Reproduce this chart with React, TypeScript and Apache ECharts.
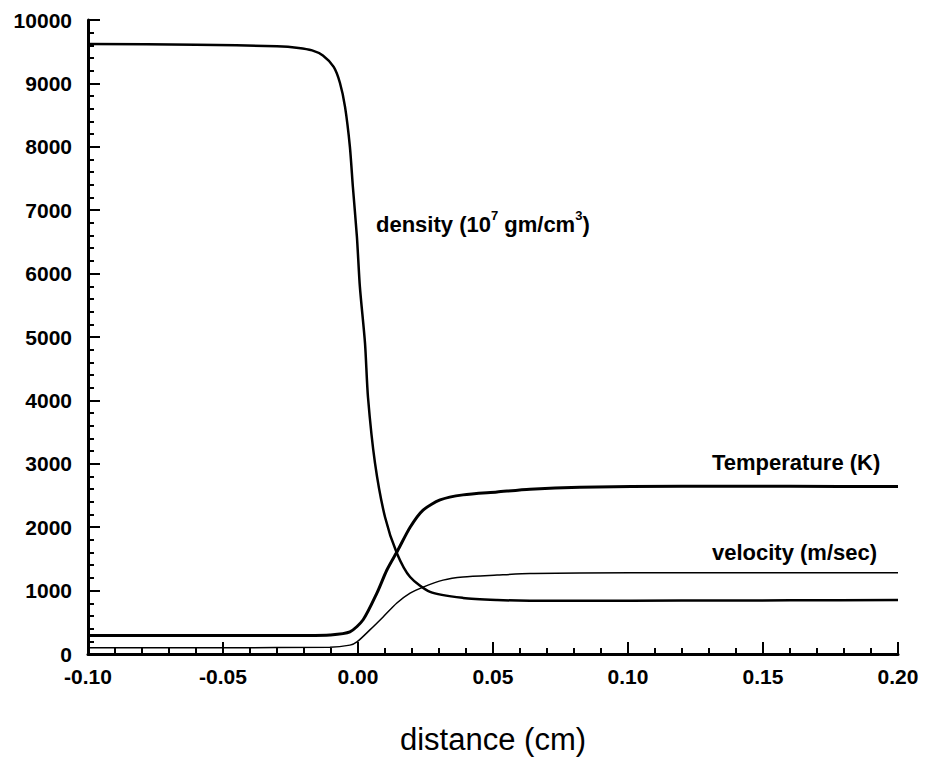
import React, { useEffect, useRef } from "react";
import * as echarts from "echarts";

const densityX = [-0.1, -0.06, -0.03, -0.022, -0.017, -0.013, -0.009, -0.0067, -0.0048, -0.003, -0.0019, -0.0004, 0.0007, 0.0026, 0.0037, 0.0063, 0.01, 0.0144, 0.0193, 0.0267, 0.0389, 0.0515, 0.0637, 0.0822, 0.12, 0.16, 0.2];
const densityY = [9620, 9610, 9585, 9560, 9520, 9440, 9260, 9010, 8630, 8000, 7370, 6580, 5790, 4900, 4050, 3010, 2160, 1590, 1215, 980, 885, 852, 840, 838, 842, 846, 850];

const temperatureX = [-0.1, -0.05, -0.02, -0.0104, -0.003, 0.0019, 0.007, 0.0107, 0.0148, 0.0193, 0.0241, 0.0304, 0.0389, 0.0515, 0.0637, 0.0822, 0.12, 0.16, 0.2];
const temperatureY = [290, 290, 292, 300, 350, 540, 960, 1325, 1640, 2000, 2270, 2430, 2510, 2555, 2600, 2630, 2645, 2645, 2640];

const velocityX = [-0.1, -0.05, -0.0104, -0.003, -0.0004, 0.0044, 0.0093, 0.0144, 0.0193, 0.0241, 0.0315, 0.0389, 0.0515, 0.0637, 0.0822, 0.12, 0.16, 0.2];
const velocityY = [100, 100, 105, 140, 190, 380, 585, 805, 960, 1055, 1165, 1215, 1245, 1270, 1278, 1280, 1280, 1280];

const zip = (xs: number[], ys: number[]) => xs.map((x, i) => [x, ys[i]]);

const FONT = "'Liberation Sans', Arial, Helvetica, sans-serif";

export default function App() {
  const ref = useRef<HTMLDivElement>(null);
  useEffect(() => {
    if (!ref.current) return;
    const chart = echarts.init(ref.current, undefined, { renderer: "svg" });
    const axisLabel = { color: "#000", fontFamily: FONT, fontWeight: "bold" as const, fontSize: 21 };
    chart.setOption({
      animation: false,
      backgroundColor: "#fff",
      grid: { left: 88, top: 20, right: 31, bottom: 112, containLabel: false },
      xAxis: {
        type: "value",
        min: -0.1,
        max: 0.2,
        interval: 0.05,
        name: "distance (cm)",
        nameLocation: "middle",
        nameGap: 70,
        nameTextStyle: { color: "#000", fontFamily: FONT, fontSize: 31 },
        axisLine: { onZero: false, lineStyle: { color: "#000", width: 3 } },
        axisTick: { show: true, inside: true, length: 12, lineStyle: { color: "#000", width: 2 } },
        minorTick: { show: true, splitNumber: 5, length: 6, lineStyle: { color: "#000", width: 2 } },
        splitLine: { show: false },
        axisLabel: { ...axisLabel, margin: 12, formatter: (v: number) => v.toFixed(2) },
      },
      yAxis: {
        type: "value",
        min: 0,
        max: 10000,
        interval: 1000,
        axisLine: { show: true, onZero: false, lineStyle: { color: "#000", width: 3 } },
        axisTick: { show: true, inside: true, length: 12, lineStyle: { color: "#000", width: 2 } },
        minorTick: { show: true, splitNumber: 5, length: 6, lineStyle: { color: "#000", width: 2 } },
        splitLine: { show: false },
        axisLabel: { ...axisLabel, margin: 16, formatter: (v: number) => String(Math.round(v)) },
      },
      series: [
        {
          name: "density",
          type: "line",
          data: zip(densityX, densityY),
          showSymbol: false,
          smooth: 0.25,
          lineStyle: { color: "#000", width: 2.5 },
        },
        {
          name: "temperature",
          type: "line",
          data: zip(temperatureX, temperatureY),
          showSymbol: false,
          smooth: 0.25,
          lineStyle: { color: "#000", width: 3 },
        },
        {
          name: "velocity",
          type: "line",
          data: zip(velocityX, velocityY),
          showSymbol: false,
          smooth: 0.25,
          lineStyle: { color: "#000", width: 1.5 },
        },
      ],
      graphic: [
        {
          type: "text",
          left: 376,
          top: 209,
          style: {
            text: "{n|density (10}{s|7}{n| gm/cm}{s|3}{n|)}",
            rich: {
              n: { fontFamily: FONT, fontWeight: "bold", fontSize: 22, fill: "#000", verticalAlign: "bottom", lineHeight: 26 },
              s: { fontFamily: FONT, fontWeight: "bold", fontSize: 13, fill: "#000", verticalAlign: "top", lineHeight: 26, padding: [0, 0, 12, 0] },
            },
          },
        },
        {
          type: "text",
          left: 712,
          top: 451,
          style: { text: "Temperature (K)", font: `bold 22px ${FONT}`, fill: "#000" },
        },
        {
          type: "text",
          left: 712,
          top: 541,
          style: { text: "velocity (m/sec)", font: `bold 22px ${FONT}`, fill: "#000" },
        },
      ],
    });
    return () => chart.dispose();
  }, []);
  return <div ref={ref} style={{ position: "fixed", left: 0, top: 0, width: 929, height: 766 }} />;
}
